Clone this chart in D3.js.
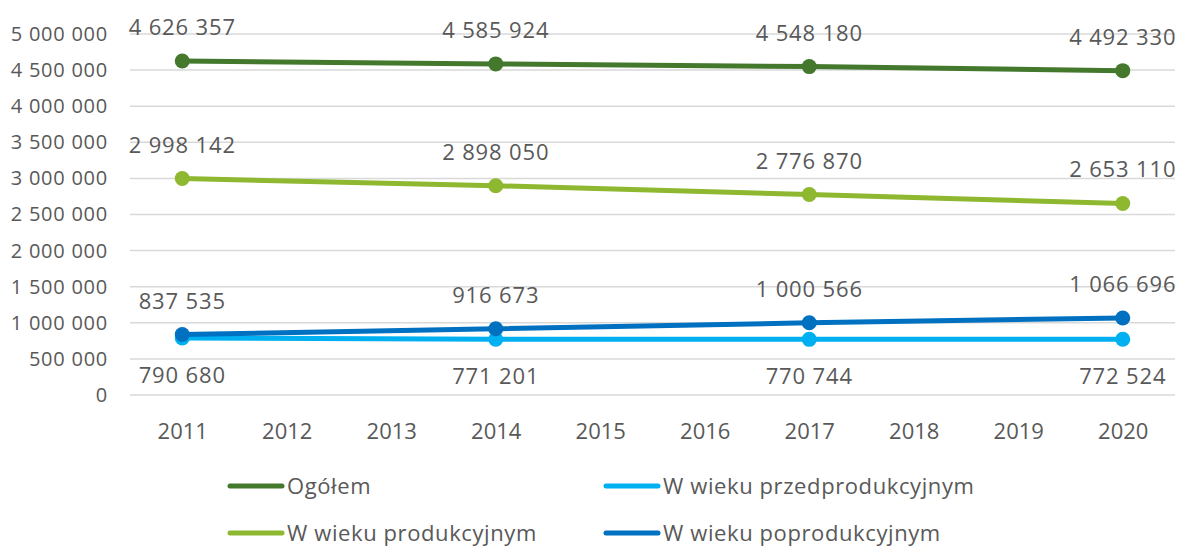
<!DOCTYPE html>
<html><head><meta charset="utf-8">
<script src="https://cdn.jsdelivr.net/npm/d3@7"></script>
<style>body{margin:0;background:#fff}svg{display:block}text{font-family:"Open Sans",sans-serif;fill:#595959}</style>
</head><body><svg id="c" width="1177" height="546"></svg>
<script>
const years = ["2011","2012","2013","2014","2015","2016","2017","2018","2019","2020"];
const dataYears = ["2011","2014","2017","2020"];
const ogolem = [4626357, 4585924, 4548180, 4492330];
const produkcyjny = [2998142, 2898050, 2776870, 2653110];
const poprodukcyjny = [837535, 916673, 1000566, 1066696];
const przedprodukcyjny = [790680, 771201, 770744, 772524];
const yTicks = [0,500000,1000000,1500000,2000000,2500000,3000000,3500000,4000000,4500000,5000000];

const series = [
  {name:"Ogółem", values:ogolem, color:"#43782D", pos:"above"},
  {name:"W wieku produkcyjnym", values:produkcyjny, color:"#8DB830", pos:"above"},
  {name:"W wieku przedprodukcyjnym", values:przedprodukcyjny, color:"#00B0F0", pos:"below"},
  {name:"W wieku poprodukcyjnym", values:poprodukcyjny, color:"#0070C0", pos:"above"}
];

const svg = d3.select("#c");
const x = d3.scalePoint().domain(years).range([130,1175]).padding(0.5);
const y = d3.scaleLinear().domain([0,5000000]).range([395,34]);
const fmt = v => d3.format(",")(v).replace(/,/g," ");

// gridlines
svg.append("g").selectAll("line").data(yTicks).join("line")
  .attr("x1",130).attr("x2",1175).attr("y1",d=>y(d)).attr("y2",d=>y(d))
  .attr("stroke","#d9d9d9").attr("stroke-width",1.5);

// y axis labels
const yAxis = svg.append("g").attr("transform","translate(108,0)")
  .call(d3.axisLeft(y).tickValues(yTicks).tickFormat(fmt).tickSize(0).tickPadding(0));
yAxis.select(".domain").remove();
yAxis.selectAll("text").style("font-size","20px").style("letter-spacing","0.75px")
  .attr("fill","#595959").style("font-family","'Open Sans',sans-serif");

// x axis labels
const xAxis = svg.append("g").attr("transform","translate(0,423)")
  .call(d3.axisBottom(x).tickSize(0).tickPadding(0));
xAxis.select(".domain").remove();
xAxis.selectAll("text").style("font-size","22px").attr("fill","#595959").style("font-family","'Open Sans',sans-serif");

// draw order: przed, popro, prod, ogolem
const order = [series[2], series[3], series[1], series[0]];
const line = d3.line().x(d=>x(d.year)).y(d=>y(d.v));
order.forEach(s=>{
  const pts = dataYears.map((yr,i)=>({year:yr, v:s.values[i]}));
  svg.append("path").datum(pts).attr("d",line).attr("fill","none")
    .attr("stroke",s.color).attr("stroke-width",5).attr("stroke-linecap","round");
  svg.append("g").selectAll("circle").data(pts).join("circle")
    .attr("cx",d=>x(d.year)).attr("cy",d=>y(d.v)).attr("r",7.5).attr("fill",s.color);
});
series.forEach(s=>{
  const pts = dataYears.map((yr,i)=>({year:yr, v:s.values[i]}));
  svg.append("g").selectAll("text").data(pts).join("text")
    .attr("x",d=>x(d.year)).attr("y",d=>y(d.v) + (s.pos==="above" ? -26 : 45))
    .attr("text-anchor","middle").style("font-size","22px").style("letter-spacing","0.85px")
    .text(d=>fmt(d.v));
});

// legend
const legend = [
  {s:series[0], lx:230, ly:486},
  {s:series[2], lx:606, ly:486},
  {s:series[1], lx:230, ly:533},
  {s:series[3], lx:606, ly:533}
];
legend.forEach(l=>{
  svg.append("line").attr("x1",l.lx).attr("x2",l.lx+52).attr("y1",l.ly).attr("y2",l.ly)
    .attr("stroke",l.s.color).attr("stroke-width",5).attr("stroke-linecap","round");
  svg.append("text").attr("x",l.lx+57).attr("y",l.ly).attr("dy","0.36em")
    .style("font-size","22px").style("letter-spacing","0.6px").text(l.s.name);
});
</script></body></html>
